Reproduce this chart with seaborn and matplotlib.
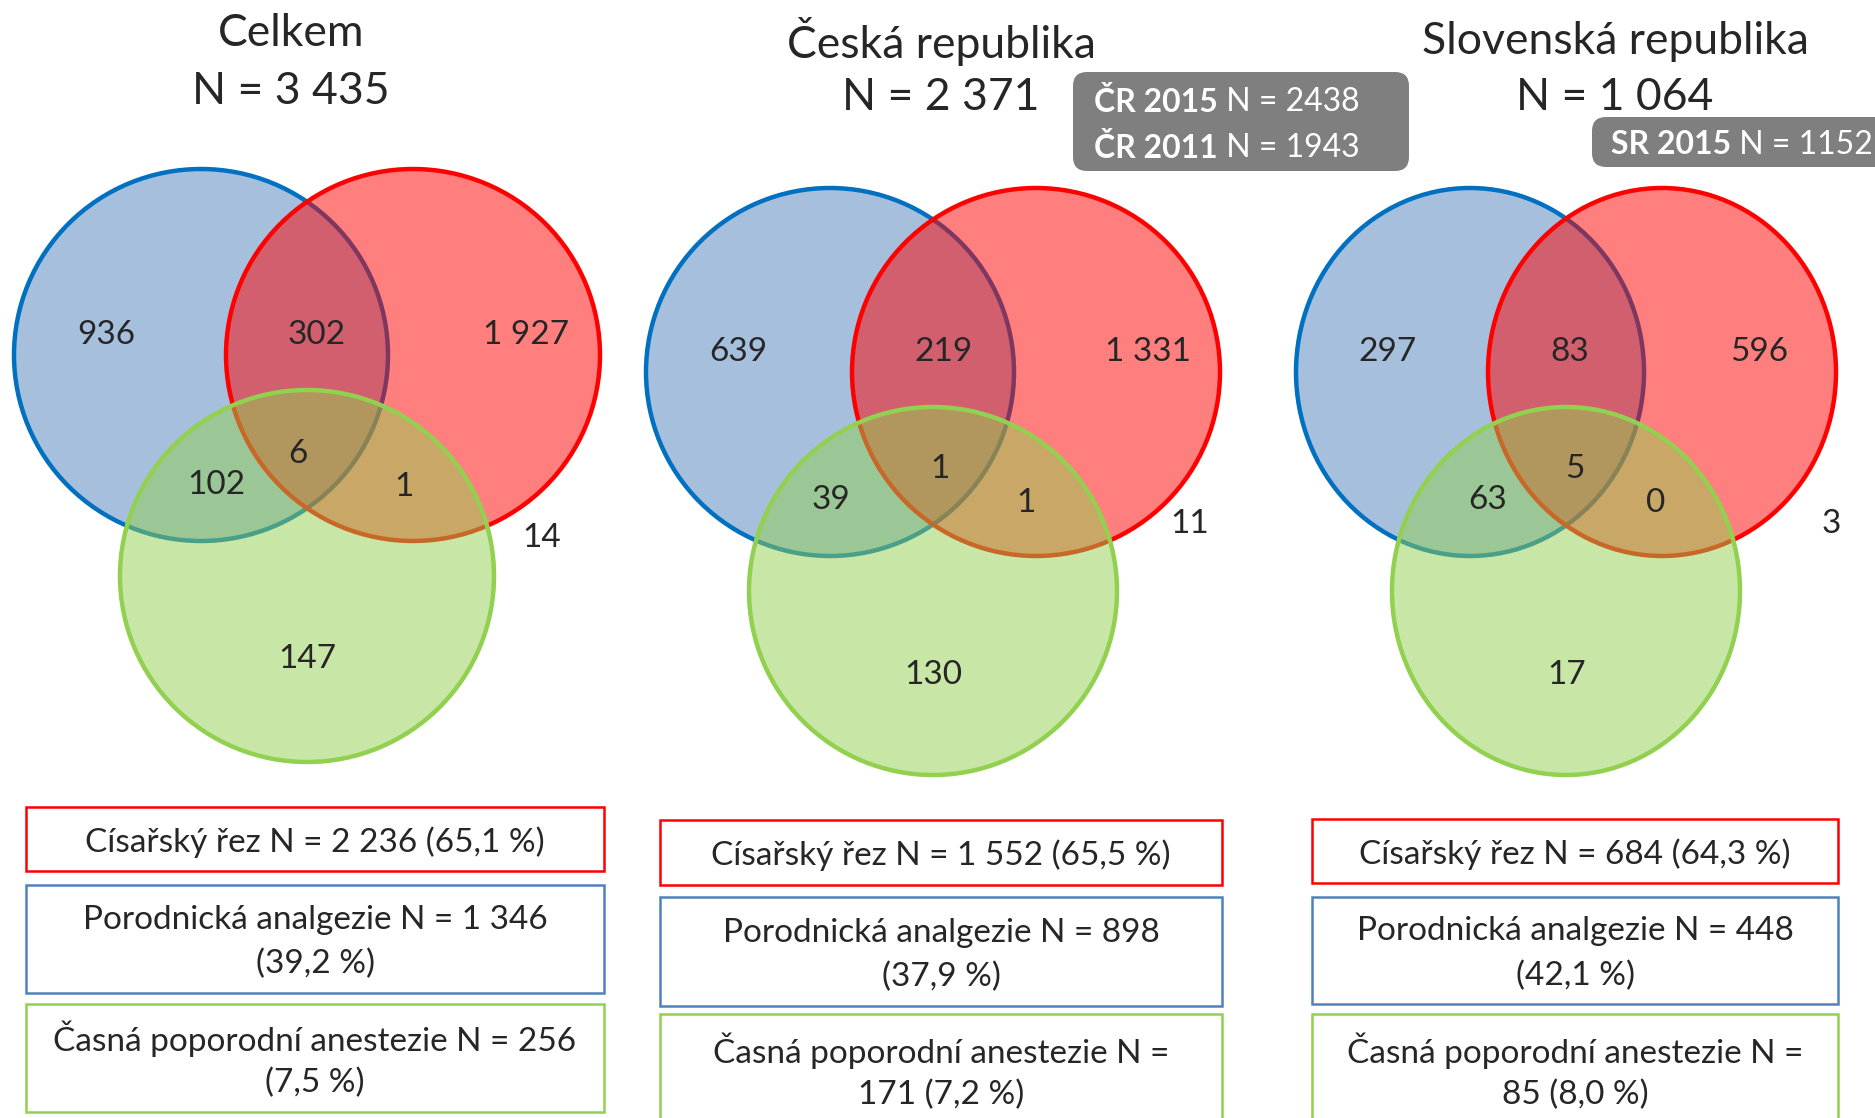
import numpy as np
import pandas as pd
import seaborn as sns
import matplotlib.pyplot as plt
from matplotlib.patches import Ellipse, Rectangle, FancyBboxPatch

# --- data ---
titles = ["Celkem", "Česká republika", "Slovenská republika"]
totals = [3435, 2371, 1064]

# regions: blue only, blue&red, red only, all three, blue&green, red&green, none, green only
counts_celkem = [936, 302, 1927, 6, 102, 1, 14, 147]
counts_cr = [639, 219, 1331, 1, 39, 1, 11, 130]
counts_sr = [297, 83, 596, 5, 63, 0, 3, 17]

cisarsky_n = [2236, 1552, 684]
cisarsky_pct = [65.1, 65.5, 64.3]
analgezie_n = [1346, 898, 448]
analgezie_pct = [39.2, 37.9, 42.1]
anestezie_n = [256, 171, 85]
anestezie_pct = [7.5, 7.2, 8.0]

ref_years_cr = ["ČR 2015", "ČR 2011"]
ref_n_cr = [2438, 1943]
ref_years_sr = ["SR 2015"]
ref_n_sr = [1152]

# --- layout (pixels, y down) ---
venn_mid = [(307, 355), (933, 372), (1566, 372)]
venn_d = [106, 103, 96]
venn_h = [221, 219, 219]
venn_rx = [187, 184, 174]
venn_ry = [186, 184, 184]
title_x = [291, 941, 1615]
title_y = [34, 42, 42]
total_y = [92, 98, 98]
label_xy = [
    [(106, 335), (317, 335), (526, 335), (298, 454), (216, 485), (404, 487), (542, 538), (307, 659)],
    [(738, 352), (944, 352), (1148, 352), (940, 469), (831, 500), (1026, 503), (1190, 524), (933, 675)],
    [(1387, 352), (1570, 352), (1759, 352), (1575, 469), (1488, 500), (1656, 503), (1831, 524), (1567, 675)],
]
box_x = [(26, 604), (660, 1222), (1312, 1838)]
box_y = [
    [(807, 871), (885, 993), (1004, 1112)],
    [(820, 885), (897, 1006), (1014, 1130)],
    [(819, 883), (897, 1004), (1014, 1130)],
]
green_wrap_after_eq = [False, True, True]

sns.set_theme(style="white")
plt.rcParams['font.family'] = ['Lato', 'DejaVu Sans']

fills = sns.color_palette(["#4F81BD", "#FF0000", "#92D050"])
circle_edges = ["#0070C0", "#FF0000", "#92D050"]
box_edges = ["#FF0000", "#4F81BD", "#92D050"]


def fmt(v):
    return f"{v:,}".replace(",", " ")


def pct(v):
    return f"{v:.1f}".replace(".", ",") + " %"


fig = plt.figure(figsize=(18.75, 11.18), dpi=100)
ax = fig.add_axes([0, 0, 1, 1])
ax.set_xlim(0, 1875)
ax.set_ylim(1118, 0)
ax.axis("off")

all_counts = [counts_celkem, counts_cr, counts_sr]

for p in range(3):
    mx, my = venn_mid[p]
    d, h = venn_d[p], venn_h[p]
    rx, ry = venn_rx[p], venn_ry[p]
    centers = [(mx - d, my), (mx + d, my), (mx, my + h)]
    for k, (cx, cy) in enumerate(centers):
        ax.add_patch(Ellipse((cx, cy), 2 * rx, 2 * ry,
                             facecolor=(*fills[k], 0.5),
                             edgecolor=circle_edges[k], lw=3.2, zorder=2 + k))
    for (lx, ly), v in zip(label_xy[p], all_counts[p]):
        ax.text(lx, ly, fmt(v), ha="center", va="center", fontsize=24, zorder=10)

    ax.text(title_x[p], title_y[p], titles[p], ha="center", va="center", fontsize=32)
    ax.text(title_x[p], total_y[p], "N = " + fmt(totals[p]), ha="center", va="center", fontsize=32)

    # legend boxes
    if green_wrap_after_eq[p]:
        green_txt = "Časná poporodní anestezie N =\n" + fmt(anestezie_n[p]) + " (" + pct(anestezie_pct[p]) + ")"
    else:
        green_txt = "Časná poporodní anestezie N = " + fmt(anestezie_n[p]) + "\n(" + pct(anestezie_pct[p]) + ")"
    texts = [
        "Císařský řez N = " + fmt(cisarsky_n[p]) + " (" + pct(cisarsky_pct[p]) + ")",
        "Porodnická analgezie N = " + fmt(analgezie_n[p]) + "\n(" + pct(analgezie_pct[p]) + ")",
        green_txt,
    ]
    x0, x1 = box_x[p]
    for k in range(3):
        y0, y1 = box_y[p][k]
        ax.add_patch(Rectangle((x0, y0), x1 - x0, y1 - y0, facecolor="white",
                               edgecolor=box_edges[k], lw=1.8, zorder=2))
        lines = texts[k].split("\n")
        yc = (y0 + y1) / 2 + 3
        if p > 0 and k == 2:
            yc = 1073
        for i, line in enumerate(lines):
            yy = yc + (i - (len(lines) - 1) / 2) * 44
            ax.text((x0 + x1) / 2, yy, line, ha="center", va="center", fontsize=24, zorder=5)

# grey comparison boxes
ax.add_patch(FancyBboxPatch((1073, 72), 336, 99, boxstyle="round,pad=0,rounding_size=14",
                            facecolor="#7F7F7F", edgecolor="none", zorder=6))
ax.add_patch(FancyBboxPatch((1592, 117), 320, 50, boxstyle="round,pad=0,rounding_size=14",
                            facecolor="#7F7F7F", edgecolor="none", zorder=6))


def ref_line(x, y, year, n):
    t = ax.text(x, y, year, ha="left", va="center", fontsize=23, fontweight="bold",
                color="white", zorder=7)
    ax.annotate(" N = " + str(n), xy=(1, 0.5), xycoords=t, ha="left", va="center",
                fontsize=23, color="white", zorder=7)


for i, (yr, n) in enumerate(zip(ref_years_cr, ref_n_cr)):
    ref_line(1094, 102 + i * 46, yr, n)
for yr, n in zip(ref_years_sr, ref_n_sr):
    ref_line(1611, 145, yr, n)

fig.savefig("out.png", dpi=100)
